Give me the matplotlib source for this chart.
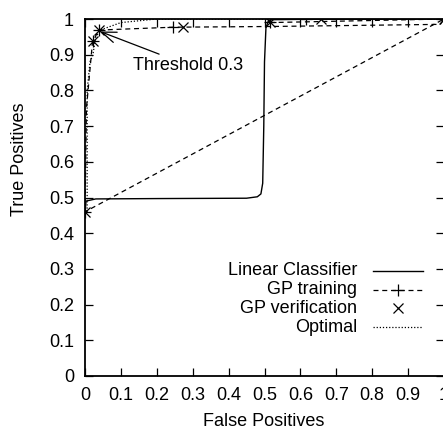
import matplotlib
matplotlib.use("Agg")
import matplotlib.pyplot as plt
from matplotlib.lines import Line2D

plt.rcParams['font.family'] = ['Liberation Sans', 'DejaVu Sans']
plt.rcParams['font.size'] = 13

# ---- data ----
lin_fp = [0.0, 0.003, 0.03, 0.2, 0.45, 0.48, 0.49, 0.495, 0.498, 0.5, 0.504, 0.51, 0.52, 0.6, 1.0]
lin_tp = [0.46, 0.49, 0.496, 0.497, 0.498, 0.502, 0.51, 0.54, 0.7, 0.88, 0.975, 0.993, 0.998, 0.999, 1.0]

# training curve, drawn as one path (the closing segment gives the diagonal)
gpt_fp = [0.0, 0.004, 0.021, 0.039, 0.245, 0.515, 0.99, 1.0, 0.0]
gpt_tp = [0.46, 0.75, 0.937, 0.969, 0.977, 0.979, 0.985, 1.0, 0.46]
gpt_fp2 = [0.515, 0.615, 1.0]
gpt_tp2 = [0.99, 0.992, 1.0]
gpt_pts_fp = [0.0, 0.021, 0.039, 0.245, 0.515, 0.615, 1.0]
gpt_pts_tp = [0.46, 0.937, 0.969, 0.977, 0.992, 1.0, 1.0]

gpv_fp = [0.0, 0.021, 0.039, 0.272, 0.515, 0.657, 1.0]
gpv_tp = [0.46, 0.937, 0.969, 0.977, 0.992, 1.0, 1.0]

opt_fp = [0.006, 0.006, 0.014, 0.022, 0.03, 0.045, 0.1, 0.2, 1.0]
opt_tp = [0.46, 0.8, 0.88, 0.9, 0.95, 0.97, 0.99, 1.0, 1.0]

ticks = [0, 0.1, 0.2, 0.3, 0.4, 0.5, 0.6, 0.7, 0.8, 0.9, 1]
tick_labels = ['0', '0.1', '0.2', '0.3', '0.4', '0.5', '0.6', '0.7', '0.8', '0.9', '1']

legend_labels = ['Linear Classifier', 'GP training', 'GP verification', 'Optimal']

# ---- figure ----
fig = plt.figure(figsize=(4.43, 4.29), dpi=100)
ax = fig.add_axes([85 / 443, 53 / 429, 359 / 443, 357 / 429])

dash = (0, (4, 3))
ax.plot(lin_fp, lin_tp, color='k', lw=1.0, solid_joinstyle='round')
ax.plot(gpt_fp, gpt_tp, color='k', lw=0.9, linestyle=dash)
ax.plot(gpt_fp2, gpt_tp2, color='k', lw=0.9, linestyle=dash)
ax.plot(gpt_pts_fp, gpt_pts_tp, linestyle='none', marker='+', ms=8, mew=0.9, color='k')
ax.plot(gpv_fp, gpv_tp, linestyle='none', marker='x', ms=7, mew=0.9, color='k')
ax.plot(opt_fp, opt_tp, color='k', lw=0.9, linestyle=(0, (1, 1.5)))

ax.annotate('Threshold 0.3', xy=(0.042, 0.965), xytext=(0.135, 0.87),
            ha='left', va='center',
            arrowprops=dict(arrowstyle='->,head_length=0.8,head_width=0.3',
                            color='k', lw=0.9, shrinkA=0, shrinkB=0))

ax.set_xlim(0, 1)
ax.set_ylim(0, 1)
ax.set_xticks(ticks)
ax.set_xticklabels(tick_labels)
ax.set_yticks(ticks)
ax.set_yticklabels(tick_labels)
ax.tick_params(direction='in', length=5.8, width=0.9, top=True, right=True)
ax.tick_params(axis='x', pad=8)
ax.tick_params(axis='y', pad=8)
for s in ax.spines.values():
    s.set_linewidth(1.3)

ax.set_xlabel('False Positives')
ax.set_ylabel('True Positives')
ax.xaxis.set_label_coords(0.499, -0.103)
ax.yaxis.set_label_coords(-0.16, 0.608)

# gnuplot style key: right aligned text, sample to the right
row_y = [0.295, 0.241, 0.190, 0.137]
samples = [
    dict(color='k', lw=1.0),
    dict(color='k', lw=0.9, linestyle=dash),
    dict(color='k', lw=0, linestyle='none'),
    dict(color='k', lw=0.9, linestyle=(0, (1, 1.5))),
]
for lab, yy, st in zip(legend_labels, row_y, samples):
    ax.text(0.758, yy, lab, transform=ax.transAxes, ha='right', va='center')
    ax.add_line(Line2D([0.802, 0.942], [yy, yy], transform=ax.transAxes, **st))
ax.add_line(Line2D([0.872], [row_y[1]], transform=ax.transAxes, marker='+',
                   ms=8, mew=0.9, color='k', linestyle='none'))
ax.add_line(Line2D([0.872], [row_y[2]], transform=ax.transAxes, marker='x',
                   ms=7, mew=0.9, color='k', linestyle='none'))

fig.savefig('out.png', dpi=100)
